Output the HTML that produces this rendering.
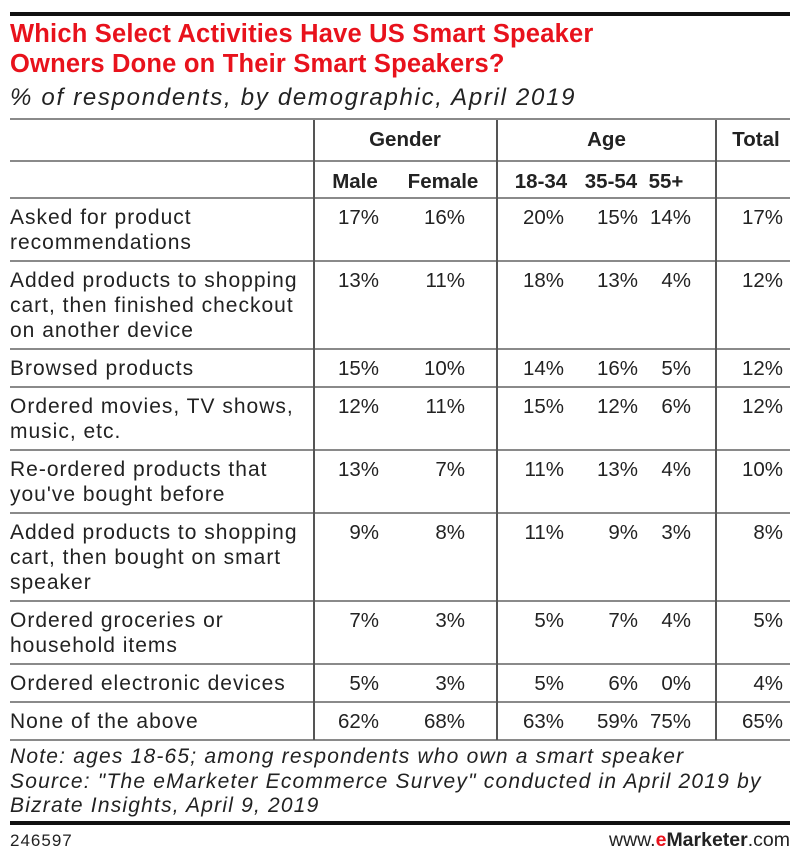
<!DOCTYPE html>
<html><head><meta charset="utf-8">
<style>
body{margin:0;background:#fff;}
#c{position:relative;width:800px;height:858px;overflow:hidden;font-family:"Liberation Sans",sans-serif;color:#222;}
.t{position:absolute;white-space:nowrap;}
.h{position:absolute;left:10px;width:780px;height:2px;background:#8a8a8a;}
.v{position:absolute;width:2px;background:#555;}
.title{color:#e8121c;font-weight:bold;font-size:25.5px;left:10px;letter-spacing:0.2px;}
.lab{font-size:21px;left:10px;line-height:25px;letter-spacing:1px;}
.val{font-size:20.5px;text-align:right;width:60px;}
.hd{font-size:20.5px;font-weight:bold;text-align:center;}
.it{font-style:italic;font-size:21px;left:10px;letter-spacing:1.2px;}
</style></head><body>
<div id="c">
<div class="t" style="left:10px;top:12px;width:780px;height:4px;background:#111;position:absolute"></div>
<div class="t title" style="top:20px">Which Select Activities Have US Smart Speaker</div>
<div class="t title" style="top:50px">Owners Done on Their Smart Speakers?</div>
<div class="t" style="left:10px;top:84px;font-size:24px;font-style:italic;letter-spacing:1.7px">% of respondents, by demographic, April 2019</div>
<div id="tbl"></div>
<div class="t it" style="top:745px">Note: ages 18-65; among respondents who own a smart speaker</div>
<div class="t it" style="top:770px">Source: "The eMarketer Ecommerce Survey" conducted in April 2019 by</div>
<div class="t it" style="top:794px">Bizrate Insights, April 9, 2019</div>
<div style="position:absolute;left:10px;top:821px;width:780px;height:4px;background:#111"></div>
<div class="t" style="left:10px;top:831px;font-size:17px;letter-spacing:1px">246597</div>
<div class="t" style="right:10px;top:829px;font-size:19.5px">www.<span style="color:#e8121c;font-weight:bold">e</span><b>Marketer</b>.com</div>
</div>
<script>
const labels=[["Asked for product","recommendations"],["Added products to shopping","cart, then finished checkout","on another device"],["Browsed products"],["Ordered movies, TV shows,","music, etc."],["Re-ordered products that","you've bought before"],["Added products to shopping","cart, then bought on smart","speaker"],["Ordered groceries or","household items"],["Ordered electronic devices"],["None of the above"]];
const male=[17,13,15,12,13,9,7,5,62];
const female=[16,11,10,11,7,8,3,3,68];
const age1834=[20,18,14,15,11,11,5,5,63];
const age3554=[15,13,16,12,13,9,7,6,59];
const age55=[14,4,5,6,4,3,4,0,75];
const total=[17,12,12,12,10,8,5,4,65];
const colNames=["Male","Female","18-34","35-54","55+"];
const tbl=document.getElementById('tbl');
const series=[male,female,age1834,age3554,age55,total];
const rightEdge=[379,465,564,638,691,783];
const colCenter=[355,443,541,611,666];
function add(cls,style,text,name){const d=document.createElement('div');d.className=cls;d.style.cssText=style;d.textContent=text;


tbl.appendChild(d);return d;}
add('t hd','left:313px;width:184px;top:128px','Gender','header-gender');
add('t hd','left:497px;width:219px;top:128px','Age','header-age');
add('t hd','left:716px;width:80px;top:128px','Total','header-total');
colNames.forEach((n,i)=>add('t hd','left:'+(colCenter[i]-45)+'px;width:90px;top:170px',n,'header-'+n.toLowerCase()));
const lines=[119,161,198];
let y=198;const rowTops=[];
labels.forEach(l=>{rowTops.push(y);y+=l.length*25+13;lines.push(Math.round(y));});
lines.forEach((ly,i)=>add('h','top:'+(ly-1)+'px','', 'rule-'+i));
[313,496,715].forEach((x,i)=>add('v','left:'+x+'px;top:120px;height:'+(lines[lines.length-1]-120)+'px','','col-divider-'+i));
labels.forEach((l,r)=>{
 const top=rowTops[r]+7;
 l.forEach((s,k)=>add('t lab','top:'+(top+k*25)+'px',s,'row-label-'+r));
 series.forEach((arr,c)=>add('t val','left:'+(rightEdge[c]-60)+'px;top:'+top+'px;line-height:25px',arr[r]+'%','cell-'+r+'-'+c));
});
</script>
</body></html>
